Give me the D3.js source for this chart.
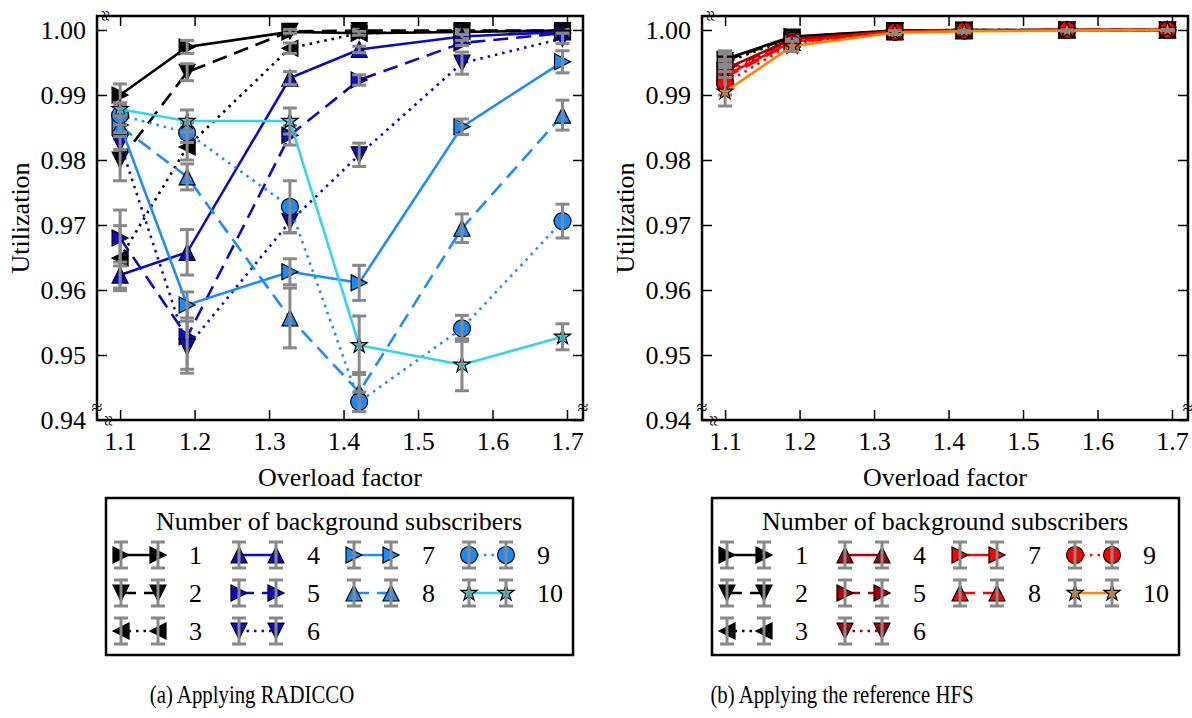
<!DOCTYPE html>
<html>
<head>
<meta charset="utf-8">
<script src="https://cdn.jsdelivr.net/npm/d3@7"></script>
<style>
  body { margin: 0; background: #fff; }
  text { font-family: "Liberation Serif", "Times New Roman", serif; fill: #000; }
</style>
</head>
<body>
<svg id="chart" width="1192" height="718"></svg>
<script>
// overload factors on the x axis
var overload = [1.1, 1.19, 1.328, 1.421, 1.559, 1.694];
var subscribers = ['1', '2', '3', '4', '5', '6', '7', '8', '9', '10'];
var xTicks = [1.1, 1.2, 1.3, 1.4, 1.5, 1.6, 1.7];
var yTicks = [0.94, 0.95, 0.96, 0.97, 0.98, 0.99, 1.00];

// (a) RADICCO, one row per number of background subscribers
var radiccoMean = [
  [0.9900, 0.9974, 0.9997, 0.9995, 0.9997, 0.9999],
  [0.9800, 0.9935, 0.9998, 0.9999, 0.9999, 0.9999],
  [0.9649, 0.9820, 0.9972, 0.9995, 0.9998, 0.9999],
  [0.9623, 0.9658, 0.9926, 0.9970, 0.9990, 0.9997],
  [0.9680, 0.9528, 0.9838, 0.9923, 0.9980, 0.9995],
  [0.9826, 0.9512, 0.9705, 0.9808, 0.9949, 0.9987],
  [0.9854, 0.9577, 0.9628, 0.9611, 0.9851, 0.9951],
  [0.9852, 0.9774, 0.9557, 0.9443, 0.9695, 0.9869],
  [0.9869, 0.9842, 0.9728, 0.9428, 0.9541, 0.9706],
  [0.9878, 0.9860, 0.9860, 0.9515, 0.9485, 0.9528]
];
var radiccoErr = [
  [0.0017, 0.0010, 0.0003, 0.0003, 0.0002, 0.0002],
  [0.0032, 0.0013, 0.0003, 0.0002, 0.0002, 0.0002],
  [0.0050, 0.0020, 0.0008, 0.0003, 0.0002, 0.0002],
  [0.0020, 0.0035, 0.0010, 0.0005, 0.0003, 0.0002],
  [0.0043, 0.0050, 0.0015, 0.0008, 0.0004, 0.0003],
  [0.0010, 0.0040, 0.0017, 0.0018, 0.0017, 0.0008],
  [0.0010, 0.0020, 0.0020, 0.0027, 0.0012, 0.0017],
  [0.0010, 0.0020, 0.0046, 0.0030, 0.0022, 0.0023],
  [0.0015, 0.0015, 0.0040, 0.0015, 0.0020, 0.0026],
  [0.0010, 0.0017, 0.0020, 0.0045, 0.0040, 0.0020]
];

// (b) reference HFS
var hfsMean = [
  [0.9955, 0.9990, 0.9999, 1.0000, 1.0000, 1.0000],
  [0.9953, 0.9989, 0.9999, 1.0000, 1.0000, 1.0000],
  [0.9950, 0.9988, 0.9999, 1.0000, 1.0000, 1.0000],
  [0.9940, 0.9986, 0.9998, 0.9999, 1.0000, 1.0000],
  [0.9937, 0.9985, 0.9998, 0.9999, 1.0000, 1.0000],
  [0.9932, 0.9984, 0.9998, 0.9999, 1.0000, 1.0000],
  [0.9930, 0.9982, 0.9998, 0.9999, 1.0000, 1.0000],
  [0.9927, 0.9981, 0.9997, 0.9999, 1.0000, 1.0000],
  [0.9918, 0.9979, 0.9997, 0.9999, 1.0000, 1.0000],
  [0.9905, 0.9975, 0.9996, 0.9998, 0.9999, 1.0000]
];
var hfsErr = [
  [0.0013, 0.0006, 0.0002, 0.0002, 0.0001, 0.0001],
  [0.0013, 0.0006, 0.0002, 0.0002, 0.0001, 0.0001],
  [0.0013, 0.0006, 0.0002, 0.0002, 0.0001, 0.0001],
  [0.0015, 0.0006, 0.0002, 0.0002, 0.0001, 0.0001],
  [0.0015, 0.0006, 0.0002, 0.0002, 0.0001, 0.0001],
  [0.0015, 0.0006, 0.0002, 0.0002, 0.0001, 0.0001],
  [0.0015, 0.0006, 0.0002, 0.0002, 0.0001, 0.0001],
  [0.0015, 0.0006, 0.0002, 0.0002, 0.0001, 0.0001],
  [0.0018, 0.0007, 0.0002, 0.0002, 0.0001, 0.0001],
  [0.0022, 0.0008, 0.0003, 0.0002, 0.0001, 0.0001]
];

// styles
var blues = ['#000', '#000', '#000', '#0a0ac4', '#0a0ac4', '#0a0ac4', '#1a8cff', '#1a8cff', '#1a8cff', '#33d3f2'];
var reds = ['#000', '#000', '#000', '#a80000', '#a80000', '#a80000', '#ff0000', '#ff0000', '#ff0000', '#ff8400'];
var dashes = [null, '15,8', '2.5,5', null, '15,8', '2.5,5', null, '15,8', '2.5,5', null];
var markers = ['right', 'down', 'left', 'up', 'right', 'down', 'right', 'up', 'circle', 'star'];

var svg = d3.select('#chart');
var top0 = 16, bottom0 = 420;
var y = d3.scaleLinear().domain([0.94, 1.00215]).range([bottom0, top0]);

function markerPath(type) {
  var r = 8;
  if (type == 'right') return 'M' + r + ',0L' + (-r) + ',' + (-r) + 'L' + (-r) + ',' + r + 'Z';
  if (type == 'left') return 'M' + (-r) + ',0L' + r + ',' + (-r) + 'L' + r + ',' + r + 'Z';
  if (type == 'down') return 'M0,' + r + 'L' + (-r) + ',' + (-r) + 'L' + r + ',' + (-r) + 'Z';
  if (type == 'up') return 'M0,' + (-r) + 'L' + (-r) + ',' + r + 'L' + r + ',' + r + 'Z';
  if (type == 'circle') return d3.symbol(d3.symbolCircle, Math.PI * 8.5 * 8.5)();
  return d3.symbol(d3.symbolStar, 82)();
}

function errorBar(g, cx, cy0, cy1) {
  g.append('line').attr('x1', cx).attr('x2', cx).attr('y1', cy0).attr('y2', cy1)
    .attr('stroke', '#888').attr('stroke-width', 3);
  [cy0, cy1].forEach(function(cy) {
    g.append('line').attr('x1', cx - 7).attr('x2', cx + 7).attr('y1', cy).attr('y2', cy)
      .attr('stroke', '#888').attr('stroke-width', 3);
  });
}

function breakMark(g, x, yy, rot) {
  g.append('text').attr('x', x).attr('y', yy).attr('text-anchor', 'middle')
    .attr('dominant-baseline', 'central').attr('font-size', 20)
    .attr('transform', 'rotate(' + rot + ',' + x + ',' + yy + ')')
    .text('\u2248');
}

function drawPanel(left, right, means, errs, colors, caption, captionX, legendLeft) {
  var x = d3.scaleLinear().domain([1.069, 1.7215]).range([left, right]);
  var g = svg.append('g');

  // axes with inward ticks
  g.append('g').attr('transform', 'translate(0,' + bottom0 + ')')
    .call(d3.axisBottom(x).tickValues(xTicks).tickFormat(d3.format('.1f')).tickSize(-10).tickPadding(12));
  g.append('g').attr('transform', 'translate(0,' + top0 + ')')
    .call(d3.axisTop(x).tickValues(xTicks).tickFormat('').tickSize(-10));
  var ay = g.append('g').attr('transform', 'translate(' + left + ',0)')
    .call(d3.axisLeft(y).tickValues(yTicks).tickFormat(d3.format('.2f')).tickSize(-10).tickPadding(11));
  g.append('g').attr('transform', 'translate(' + right + ',0)')
    .call(d3.axisRight(y).tickValues(yTicks).tickFormat('').tickSize(-10));
  g.selectAll('.domain').remove();
  g.selectAll('.tick line').attr('stroke', '#000').attr('stroke-width', 1.5);
  g.selectAll('.tick text').attr('font-size', 26).attr('font-family', '"Liberation Serif", serif');
  ay.selectAll('.tick text').attr('dy', '0.33em');

  // data
  var line = d3.line().x(function(d, i) { return x(overload[i]); }).y(function(d) { return y(d); });
  means.forEach(function(row, s) {
    var sg = g.append('g');
    sg.append('path').attr('d', line(row)).attr('fill', 'none')
      .attr('stroke', colors[s]).attr('stroke-width', 2.6)
      .attr('stroke-dasharray', dashes[s]);
    sg.selectAll('.m').data(row).enter().append('path')
      .attr('d', markerPath(markers[s]))
      .attr('transform', function(d, i) { return 'translate(' + x(overload[i]) + ',' + y(d) + ')'; })
      .attr('fill', colors[s]).attr('stroke', '#000').attr('stroke-width', 1.2);
    row.forEach(function(d, i) {
      errorBar(sg, x(overload[i]), y(d + errs[s][i]), y(d - errs[s][i]));
    });
  });

  // frame
  g.append('rect').attr('x', left).attr('y', top0).attr('width', right - left).attr('height', bottom0 - top0)
    .attr('fill', 'none').attr('stroke', '#000').attr('stroke-width', 2.5);
  breakMark(g, left + 9, top0, 90);
  breakMark(g, left, bottom0 - 13, 0);
  breakMark(g, left + 12, bottom0 + 1, 90);
  breakMark(g, right, bottom0 - 13, 0);

  // axis titles
  g.append('text').attr('x', (left + right) / 2).attr('y', 486).attr('text-anchor', 'middle')
    .attr('font-size', 26).text('Overload factor');
  g.append('text').attr('transform', 'translate(' + (left - 68) + ',' + ((top0 + bottom0) / 2) + ') rotate(-90)')
    .attr('text-anchor', 'middle').attr('font-size', 26).text('Utilization');

  // legend
  var lg = g.append('g');
  lg.append('rect').attr('x', legendLeft).attr('y', 498).attr('width', 467).attr('height', 157)
    .attr('fill', '#fff').attr('stroke', '#000').attr('stroke-width', 2.5);
  lg.append('text').attr('x', legendLeft + 233).attr('y', 530).attr('text-anchor', 'middle')
    .attr('font-size', 26).text('Number of background subscribers');
  var colStart = [0, 3, 6, 8];
  var colX = [15, 133, 248, 363];
  subscribers.forEach(function(name, s) {
    var c = s < 3 ? 0 : s < 6 ? 1 : s < 8 ? 2 : 3;
    var r = s - colStart[c];
    var x0 = legendLeft + colX[c], x1 = x0 + 37, yy = 555 + r * 38;
    lg.append('line').attr('x1', x0).attr('x2', x1).attr('y1', yy).attr('y2', yy)
      .attr('stroke', colors[s]).attr('stroke-width', 2.6).attr('stroke-dasharray', dashes[s]);
    [x0, x1].forEach(function(mx) {
      lg.append('path').attr('d', markerPath(markers[s])).attr('transform', 'translate(' + mx + ',' + yy + ')')
        .attr('fill', colors[s]).attr('stroke', '#000').attr('stroke-width', 1.2);
      errorBar(lg, mx, yy - 13, yy + 13);
    });
    lg.append('text').attr('x', x0 + 68).attr('y', yy + 9).attr('font-size', 26).text(name);
  });

  // caption, in a narrow face like the original
  g.append('text').attr('transform', 'translate(' + captionX + ',703) scale(0.8,1)')
    .attr('text-anchor', 'middle').attr('font-size', 26).text(caption);
}

drawPanel(97, 583, radiccoMean, radiccoErr, blues, '(a) Applying RADICCO', 252, 106);
drawPanel(702, 1188, hfsMean, hfsErr, reds, '(b) Applying the reference HFS', 842, 712);
</script>
</body>
</html>
